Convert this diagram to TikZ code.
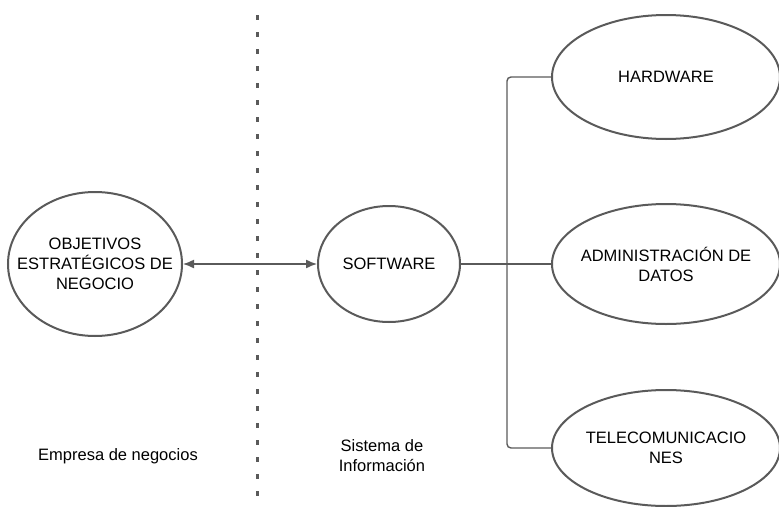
\documentclass[tikz,border=0pt]{standalone}
\usepackage{fontspec}
\setmainfont{Liberation Sans}
\usetikzlibrary{shapes.geometric,arrows.meta}
\definecolor{linegray}{RGB}{90,90,90}
\tikzset{
  bubble/.style={ellipse,draw=linegray,line width=2pt,inner sep=-40pt,align=center},
  conn/.style={draw=linegray,line width=1.4pt},
  lbl/.style={align=center}
}
\begin{document}
\begin{tikzpicture}[x=1pt,y=-1pt,font=\fontsize{16.5}{20}\selectfont]
\useasboundingbox (0,0) rectangle (779,506);
\draw[linegray,line width=3pt,dash pattern=on 5pt off 12pt] (257,15) -- (257,497);
\node[bubble,minimum width=174pt,minimum height=144pt] (obj) at (95,264) {OBJETIVOS\\ESTRATÉGICOS DE\\NEGOCIO};
\node[bubble,minimum width=142pt,minimum height=116pt] (soft) at (389,264) {SOFTWARE};
\node[bubble,minimum width=228pt,minimum height=124pt] (hard) at (666,77) {HARDWARE};
\node[bubble,minimum width=228pt,minimum height=120pt] (admin) at (666,264) {ADMINISTRACIÓN DE\\DATOS};
\node[bubble,minimum width=228pt,minimum height=116pt] (tele) at (666,448) {TELECOMUNICACIO\\NES};
\coordinate (bus) at (507,264);
\draw[conn,{Latex[length=11pt,width=9pt]}-{Latex[length=11pt,width=9pt]}] (obj) -- (soft);
\draw[conn] (soft) -- (admin);
\draw[conn,rounded corners=4pt] (hard.west) -| (bus) |- (tele.west);
\node[lbl] (empresa) at (118,456) {Empresa de negocios};
\node[lbl] (sistema) at (382,456) {Sistema de\\Información};
\end{tikzpicture}
\end{document}
